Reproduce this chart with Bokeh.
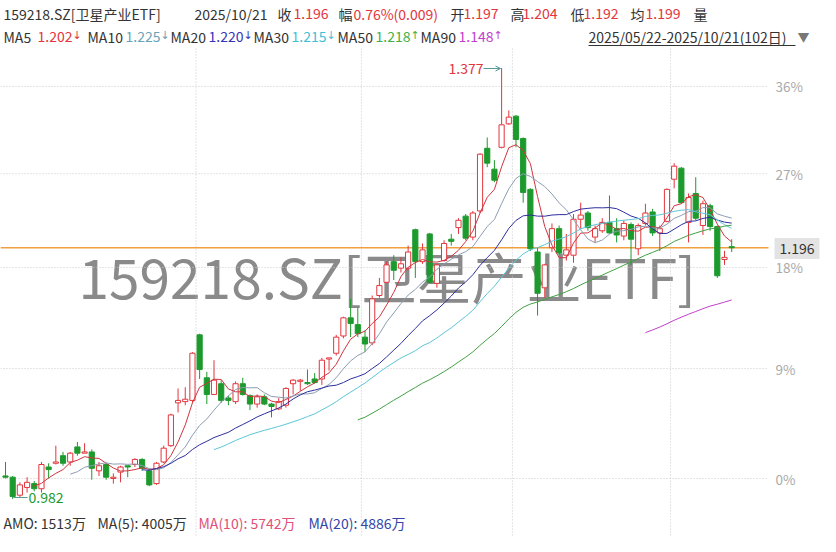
import math
import pandas as pd
from bokeh.plotting import figure
from bokeh.models import ColumnDataSource, Range1d, Label, Arrow, OpenHead
from bokeh.embed import file_html
from bokeh.resources import INLINE

# ---------------- data ----------------
opens = [1.000, 0.999, 0.985, 0.991, 0.994, 0.990, 1.007, 1.010, 1.016, 1.011,
         1.023, 1.018, 1.019, 1.004, 1.009, 0.998, 1.003, 1.008, 1.009, 1.013,
         1.004, 0.994, 1.011, 1.024, 1.059, 1.060, 1.061, 1.117, 1.080, 1.066,
         1.075, 1.063, 1.060, 1.075, 1.065, 1.058, 1.064, 1.058, 1.054, 1.057,
         1.075, 1.077, 1.076, 1.079, 1.079, 1.096, 1.101, 1.116, 1.132, 1.126,
         1.115, 1.110, 1.152, 1.164, 1.183, 1.177, 1.177, 1.213, 1.183, 1.209,
         1.163, 1.184, 1.204, 1.215, 1.226, 1.206, 1.231, 1.293, 1.272, 1.294,
         1.318, 1.326, 1.303, 1.252, 1.192, 1.159, 1.196, 1.214, 1.189, 1.189,
         1.223, 1.229, 1.206, 1.212, 1.220, 1.214, 1.207, 1.218, 1.195, 1.219,
         1.230, 1.210, 1.221, 1.262, 1.273, 1.220, 1.248, 1.217, 1.236, 1.216,
         1.185, 1.197]
highs = [1.011, 1.000, 0.995, 0.999, 0.996, 1.011, 1.010, 1.024, 1.019, 1.019,
         1.027, 1.026, 1.021, 1.011, 1.010, 1.002, 1.008, 1.008, 1.014, 1.014,
         1.006, 1.011, 1.024, 1.050, 1.071, 1.072, 1.102, 1.118, 1.085, 1.095,
         1.078, 1.065, 1.077, 1.080, 1.066, 1.066, 1.066, 1.059, 1.063, 1.072,
         1.079, 1.079, 1.087, 1.084, 1.097, 1.097, 1.117, 1.133, 1.149, 1.141,
         1.121, 1.152, 1.168, 1.183, 1.189, 1.187, 1.198, 1.214, 1.200, 1.210,
         1.181, 1.203, 1.209, 1.224, 1.228, 1.231, 1.288, 1.304, 1.281, 1.377,
         1.332, 1.327, 1.304, 1.253, 1.196, 1.181, 1.219, 1.217, 1.209, 1.228,
         1.239, 1.231, 1.217, 1.224, 1.246, 1.224, 1.222, 1.220, 1.219, 1.238,
         1.233, 1.217, 1.253, 1.278, 1.274, 1.248, 1.264, 1.241, 1.238, 1.217,
         1.193, 1.204]
lows = [0.998, 0.982, 0.983, 0.987, 0.988, 0.987, 0.998, 1.009, 1.008, 1.008,
        1.016, 1.018, 0.997, 1.000, 0.997, 0.994, 0.995, 0.999, 1.007, 1.004,
        0.992, 0.993, 1.010, 1.023, 1.051, 1.057, 1.059, 1.079, 1.058, 1.066,
        1.059, 1.057, 1.058, 1.065, 1.053, 1.055, 1.057, 1.047, 1.053, 1.055,
        1.066, 1.069, 1.074, 1.075, 1.074, 1.086, 1.099, 1.114, 1.115, 1.115,
        1.102, 1.108, 1.150, 1.163, 1.166, 1.173, 1.175, 1.168, 1.181, 1.163,
        1.159, 1.183, 1.198, 1.209, 1.203, 1.203, 1.229, 1.274, 1.259, 1.293,
        1.317, 1.294, 1.239, 1.193, 1.134, 1.150, 1.192, 1.189, 1.184, 1.182,
        1.214, 1.212, 1.201, 1.210, 1.209, 1.201, 1.203, 1.180, 1.189, 1.217,
        1.207, 1.193, 1.220, 1.253, 1.238, 1.201, 1.222, 1.208, 1.212, 1.168,
        1.180, 1.192]
closes = [0.999, 0.984, 0.993, 0.995, 0.990, 1.009, 1.005, 1.011, 1.010, 1.018,
          1.018, 1.019, 1.006, 1.008, 0.999, 0.999, 1.007, 1.007, 1.013, 1.006,
          0.993, 1.010, 1.022, 1.049, 1.061, 1.062, 1.101, 1.087, 1.066, 1.078,
          1.061, 1.061, 1.075, 1.066, 1.058, 1.064, 1.058, 1.056, 1.060, 1.071,
          1.078, 1.078, 1.075, 1.076, 1.095, 1.097, 1.115, 1.132, 1.127, 1.118,
          1.109, 1.149, 1.161, 1.180, 1.175, 1.181, 1.192, 1.183, 1.194, 1.164,
          1.180, 1.200, 1.202, 1.222, 1.205, 1.229, 1.287, 1.278, 1.261, 1.317,
          1.325, 1.302, 1.249, 1.195, 1.154, 1.180, 1.214, 1.191, 1.194, 1.223,
          1.227, 1.215, 1.214, 1.220, 1.210, 1.208, 1.219, 1.204, 1.217, 1.229,
          1.210, 1.214, 1.252, 1.275, 1.239, 1.244, 1.224, 1.238, 1.216, 1.170,
          1.187, 1.196]

ma_periods = [5, 10, 20, 30, 50, 90]
ma_colors = ["#d0353f", "#8c9db2", "#2e2e9e", "#5cc6d8", "#43a043", "#c23fcb"]
ma_text_colors = ["#e2353d", "#6aa3b5", "#3535b5", "#3fbfd8", "#45b045", "#c23fcb"]
ma_last = ["1.202", "1.225", "1.220", "1.215", "1.218", "1.148"]
ma_dir = ["↓", "↓", "↓", "↓", "↑", "↑"]

base_price = 0.998
pct_ticks = [0, 9, 18, 27, 36]
pct_labels = ["0%", "9%", "18%", "27%", "36%"]
last_price = 1.196
month_start_idx = [27, 50, 71, 93]

RED = "#e2353d"
GREEN = "#1d9a2d"
DK = "#333333"
GRID = "#c8c8c8"
FONT = "Noto Sans CJK SC"

# ---------------- figure ----------------
W, H = 820, 536
PX = 7.19          # pixels per candle
X0 = 5             # pixel of first candle
price_right = (768 - X0) / PX   # right edge of price area (data units)
price_top = 1.3983               # top of price area

n = len(closes)
idx = list(range(n))
xs = -X0 / PX
p = figure(width=W, height=H, y_axis_type="log",
           x_range=Range1d(xs, xs + W / PX), y_range=Range1d(0.9536, 1.4519),
           output_backend="svg", toolbar_location=None,
           x_axis_location=None, y_axis_location=None,
           min_border=0, min_border_left=0, min_border_right=0,
           min_border_top=0, min_border_bottom=0)
p.grid.visible = False
p.outline_line_color = None
p.background_fill_color = "white"
p.border_fill_color = "white"

# grid
tick_prices = [base_price * (1 + t / 100) for t in pct_ticks]
p.segment(x0=[xs] * len(tick_prices), x1=[price_right] * len(tick_prices),
          y0=tick_prices, y1=tick_prices, line_color=GRID, line_dash="1 2", line_width=1)
p.segment(x0=[m - 0.5 for m in month_start_idx], x1=[m - 0.5 for m in month_start_idx],
          y0=[price_top] * 4, y1=[0.9536] * 4, line_color=GRID, line_dash="1 2", line_width=1)
p.segment(x0=[xs], x1=[price_right], y0=[last_price], y1=[last_price],
          line_color="#f0a040", line_width=1.5)


def lab(sx, ry, text, color, size="13.5px", font=FONT, **kw):
    """sx: pixel from left, ry: pixel from top (middle of text)."""
    p.add_layout(Label(x=sx, y=H - ry, x_units="screen", y_units="screen", text=text,
                       text_color=color, text_font=font, text_font_size=size,
                       text_baseline="middle", **kw))


# watermark
lab(78, 274, "159218.SZ[卫星产业ETF]", "#8a8a8a", size="55px", level="underlay")

# candles
up = [c >= o for o, c in zip(opens, closes)]
src = ColumnDataSource(dict(
    idx=idx, o=opens, h=highs, l=lows, c=closes,
    top=[max(o, c) for o, c in zip(opens, closes)],
    bottom=[min(o, c) for o, c in zip(opens, closes)],
    color=[RED if u else GREEN for u in up],
    fill=["white" if u else GREEN for u in up],
))
p.segment(x0="idx", y0="h", x1="idx", y1="top", line_color="color", line_width=1, source=src)
p.segment(x0="idx", y0="bottom", x1="idx", y1="l", line_color="color", line_width=1, source=src)
p.vbar(x="idx", width=0.72, top="top", bottom="bottom", fill_color="fill",
       line_color="color", line_width=1, source=src)

# moving averages
cs = pd.Series(closes)
for per, col in zip(ma_periods, ma_colors):
    p.line(idx, cs.rolling(per).mean().tolist(), line_color=col, line_width=1)

# right-hand percentage labels
for tp, tl in zip(tick_prices, pct_labels):
    ry = 478 - 1275 * math.log(tp / base_price)
    lab(775, ry, tl, "#aaaaaa", size="13.5px")

# header line 1
y1 = 13
lab(3, y1, "159218.SZ[卫星产业ETF]", DK, size="14px")
lab(194, y1, "2025/10/21", DK, size="14px")
for sx_k, k, sx_v, v in [(277, "收", 293, "1.196"), (338, "幅", 353, "0.76%(0.009)"),
                         (450, "开", 463, "1.197"), (510, "高", 522, "1.204"),
                         (570, "低", 583, "1.192"), (630, "均", 645, "1.199")]:
    lab(sx_k, y1, k, DK, size="14px")
    lab(sx_v, y1, v, RED, size="14px")
lab(693, y1, "量", DK, size="14px")

# header line 2
y2 = 36
ma_x = [3, 87, 170, 253, 337, 420]
for x0, per, tc, txt, d in zip(ma_x, ma_periods, ma_text_colors, ma_last, ma_dir):
    off = 34 if per < 10 else 38
    lab(x0, y2, f"MA{per}", DK, size="14px")
    lab(x0 + off, y2, txt, tc, size="14px")
    lab(x0 + off + 35, y2 - 1, d, tc, size="11px", font="DejaVu Sans")
lab(588, y2, "2025/05/22-2025/10/21(102日)", DK, size="14px")
p.add_layout(Arrow(end=None, x_start=588, y_start=H - 45, x_end=795, y_end=H - 45,
                   start_units="screen", end_units="screen", line_color=DK, line_width=1))
lab(797, y2, "▼", "#777777", size="12px")

# high / low markers
lab(448, 68, "1.377", RED, size="14px")
p.add_layout(Arrow(end=OpenHead(size=5, line_color="#5a9a9a", line_width=1),
                   x_start=483, y_start=H - 68, x_end=500, y_end=H - 68,
                   start_units="screen", end_units="screen", line_color="#5a9a9a", line_width=1))
lab(28, 497, "0.982", GREEN, size="14px")
p.add_layout(Arrow(end=None, x_start=13, y_start=H - 497, x_end=27, y_end=H - 497,
                   start_units="screen", end_units="screen", line_color="#5a9a9a", line_width=1))

# last price box
lab(774, 248, "1.196", DK, size="14px", background_fill_color="#e3e3e3", padding=5)

# volume caption line
y3 = 522
lab(3, y3, "AMO: 1513万", DK, size="14px")
lab(97, y3, "MA(5): 4005万", DK, size="14px")
lab(198, y3, "MA(10): 5742万", "#e0507a", size="14px")
lab(308, y3, "MA(20): 4886万", "#3344aa", size="14px")

open("out.html", "w").write(file_html(p, INLINE))
